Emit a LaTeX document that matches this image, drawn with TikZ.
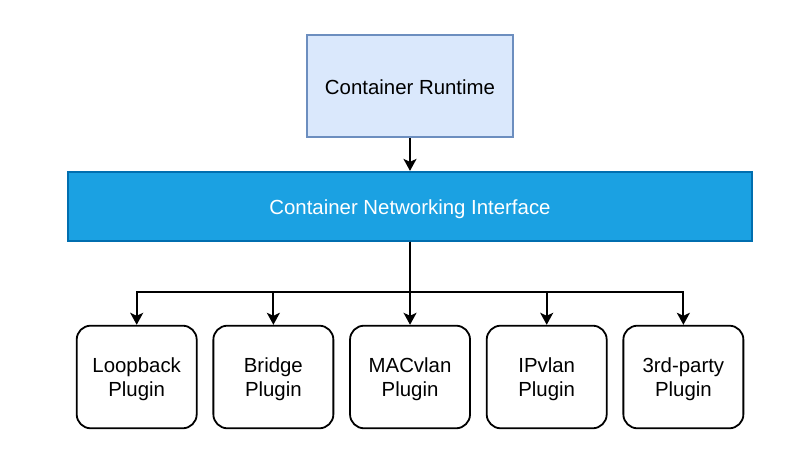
\documentclass[tikz,border=0pt]{standalone}
\usepackage{fontspec}
\setmainfont{Liberation Sans}
\usetikzlibrary{arrows.meta, positioning}

\definecolor{rtfill}{HTML}{DAE8FC}
\definecolor{rtline}{HTML}{6C8EBF}
\definecolor{cnifill}{HTML}{1BA1E2}
\definecolor{cniline}{HTML}{006EAF}

\tikzset{
  runtime/.style={draw=rtline, fill=rtfill, inner sep=0pt,
    text height=8.5pt, text depth=0pt,
    minimum width=206*0.5pt, minimum height=102.6*0.5pt},
  cnibar/.style={draw=cniline, fill=cnifill, text=white, inner sep=0pt,
    text height=8.5pt, text depth=0pt,
    minimum width=684*0.5pt, minimum height=69*0.5pt},
  plugin/.style={draw=black, rounded corners=7pt, align=center, inner sep=0pt,
    text depth=0pt,
    minimum width=120*0.5pt, minimum height=102.6*0.5pt}
}

\begin{document}
\begin{tikzpicture}[x=0.5pt,y=-0.5pt,>={Stealth[length=6pt,width=6.5pt,inset=1.5pt]},
  font=\fontsize{10.2}{11.7}\selectfont, line width=0.9pt]

\useasboundingbox (0,0) rectangle (800,459);

% --- Runtime
\node[runtime] (rt) at (410,86) {Container Runtime};

% --- CNI
\node[cnibar] (cni) at (410,206.3) {Container Networking Interface};
\draw[->] (rt) -- (cni);

% --- Plugin (elbow dal bus)
\coordinate (bus) at (410,292);
\foreach \i/\name in {0/Loopback,1/Bridge,2/MACvlan,3/IPvlan,4/3rd-party}{
  \node[plugin] (p\i) at ({136.7+136.67*\i},377) {\name\\Plugin};
  \draw[->] (cni.south) -- (bus) -| (p\i.north);
}

\end{tikzpicture}
\end{document}
